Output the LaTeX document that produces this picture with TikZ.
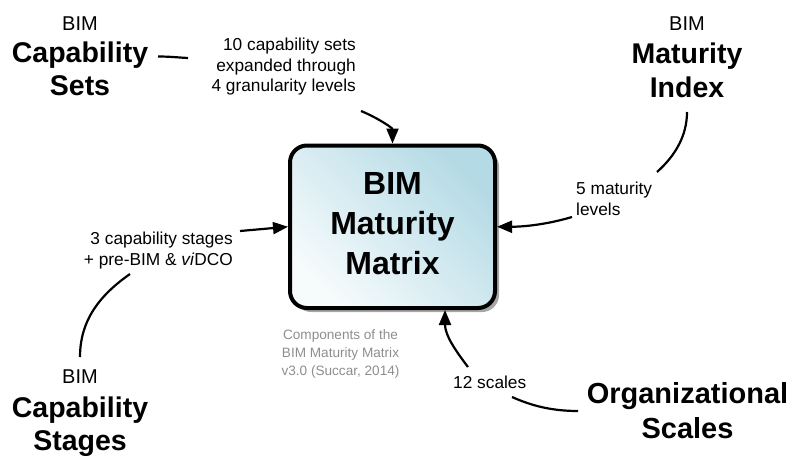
\documentclass[tikz,border=0pt]{standalone}
\usepackage{fontspec}
\setmainfont{Liberation Sans}
\usetikzlibrary{arrows.meta,shadows}
\definecolor{boxblue}{HTML}{B4DAE5}
\definecolor{boxwhite}{HTML}{F6FBFC}
\definecolor{capgrey}{HTML}{8E8E8E}
\tikzset{
  title/.style={font=\bfseries\fontsize{28.5}{33}\selectfont, align=center, inner sep=0pt, anchor=base},
  bimword/.style={font=\fontsize{20}{22}\selectfont, inner sep=0pt, anchor=base},
  lbl/.style={font=\fontsize{17.3}{20.5}\selectfont, inner sep=0pt},
  captxt/.style={font=\fontsize{13.6}{18}\selectfont, text=capgrey, align=center, inner sep=0pt, anchor=base},
  conn/.style={line width=2.2pt},
  arr/.style={conn, -{Triangle[length=15pt,width=12pt]}},
  mainbox/.style={draw, line width=4pt, rounded corners=17pt,
    minimum width=205pt, minimum height=162.5pt, inner sep=0pt, align=center,
    font=\bfseries\fontsize{32}{40}\selectfont,
    top color=boxblue, bottom color=boxwhite, shading angle=-45,
    drop shadow={shadow xshift=4pt, shadow yshift=-4pt, opacity=0.35, fill=black}}
}
\begin{document}
\begin{tikzpicture}[x=1pt,y=-1pt]
\useasboundingbox (0,0) rectangle (800,469);

% central box
\node[mainbox] (main) at (392.5,226.75) {BIM\\Maturity\\Matrix\rule[-6pt]{0pt}{0pt}};

% titles (base anchor = baseline of the last line)
\node[bimword] (setsbim) at (80,30) {BIM};
\node[title] (sets) at (80,95) {Capability\\Sets};
\node[bimword] (indexbim) at (687,30) {BIM};
\node[title, font=\bfseries\fontsize{28.5}{34}\selectfont] (index) at (687,97) {Maturity\\Index};
\node[bimword] (stagesbim) at (80,383) {BIM};
\node[title] (stages) at (80,450) {Capability\\Stages};
\node[title, font=\bfseries\fontsize{29}{35}\selectfont] (scales) at (687.5,438) {Organizational\\Scales};

% labels
\node[lbl, align=right, anchor=base east] (setslbl) at (356,91.7) {10 capability sets\\expanded through\\4 granularity levels};
\node[lbl, align=left, anchor=base west] (indexlbl) at (576,215) {5 maturity\\levels};
\node[lbl, align=right, anchor=base east] (stageslbl) at (233,265) {3 capability stages\\+ pre-BIM \& \textit{vi}DCO};
\node[lbl, anchor=base west] (scaleslbl) at (453,388) {12 scales};

% caption
\node[captxt] (caption) at (340.5,375) {Components of the\\BIM Maturity Matrix\\v3.0 (Succar, 2014)};

% connector end points
\coordinate (a0) at (158,56.5);
\coordinate (a1) at (188,58);
\coordinate (b0) at (361,111);
\coordinate (c0) at (687,112);
\coordinate (c1) at (657,172);
\coordinate (d0) at (572,217);
\coordinate (e0) at (240,231);
\coordinate (f0) at (80,357);
\coordinate (f1) at (130,274);
\coordinate (g0) at (512,397);
\coordinate (g1) at (578,411);
\coordinate (h0) at (468,367);

% connectors
\draw[conn] (a0) .. controls (170,56.5) and (178,57.5) .. (a1);
\draw[arr] (b0) .. controls (378,118) and (392.5,128) .. (main.north);
\draw[conn] (c0) .. controls (687,135) and (676,155) .. (c1);
\draw[arr] (d0) .. controls (545,225) and (522,226.75) .. (main.east);
\draw[arr] (e0) -- (main.west);
\draw[conn] (f0) .. controls (80,320) and (100,295) .. (f1);
\draw[conn] (g0) .. controls (530,405) and (550,411) .. (g1);
\draw[arr] (h0) .. controls (455,350) and (445,335) .. ([xshift=52.5pt]main.south);
\end{tikzpicture}
\end{document}
